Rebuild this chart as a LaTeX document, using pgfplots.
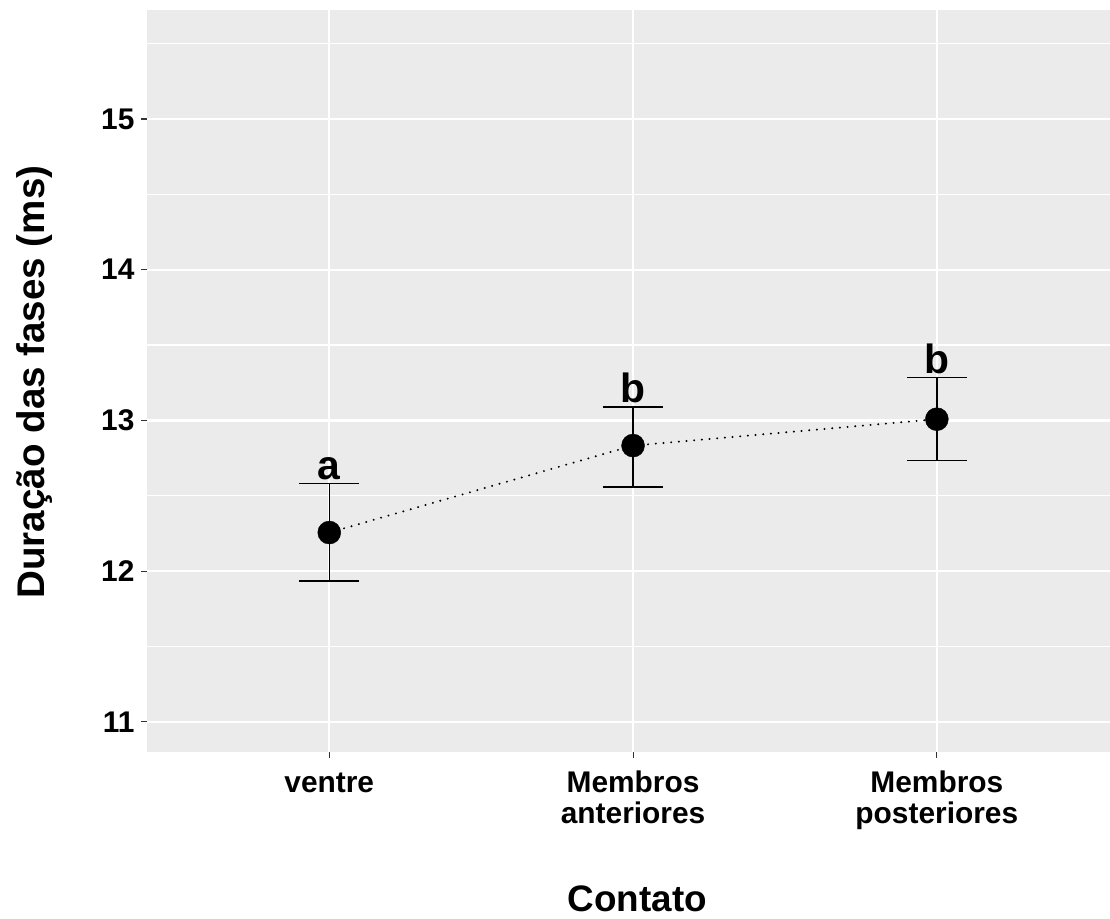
\documentclass[border=0pt]{standalone}
\usepackage{fontspec}
\setmainfont{Liberation Sans}
\usepackage{pgfplots}
\pgfplotsset{compat=1.18}
\usepackage{pgfplotstable}
\definecolor{panel}{HTML}{EBEBEB}
\definecolor{tickc}{HTML}{333333}
\pgfplotstableread{
x y ep em up lab
1 12.256 0.325 0.323 12.581 a
2 12.833 0.257 0.276 13.090 b
3 13.008 0.276 0.273 13.284 b
}\data
\begin{document}
\begin{tikzpicture}
\begin{axis}[
 scale only axis, width=963bp, height=742bp,
 xmin=0.4, xmax=3.57, ymin=10.80, ymax=15.723,
 axis background/.style={fill=panel},
 axis line style={draw=none},
 xtick={1,2,3}, xticklabels={\vphantom{Mb}ventre,{\vphantom{Mb}Membros\\anteriores},{\vphantom{Mb}Membros\\posteriores}},
 ytick={11,12,13,14,15}, minor ytick={11.5,12.5,13.5,14.5,15.5},
 xmajorgrids, ymajorgrids, yminorgrids,
 major grid style={white, line width=2.2bp},
 minor grid style={white, line width=1.1bp},
 tick align=outside, xtick pos=bottom, ytick pos=left,
 major tick length=6bp, minor tick length=0pt,
 tick style={tickc, line width=1.1bp},
 ticklabel style={font=\fontsize{30}{31}\selectfont\bfseries, black},
 xticklabel style={align=center, anchor=north, yshift=-9bp},
 yticklabel style={xshift=-3bp},
 /pgf/number format/assume math mode=true,
 xlabel={Contato}, ylabel={Duração das fases (ms)},
 xlabel style={font=\fontsize{37}{40}\selectfont\bfseries, at={(axis description cs:0.5093,-0.1981)}, anchor=center},
 ylabel style={font=\fontsize{38.7}{40}\selectfont\bfseries, at={(axis description cs:-0.1163,0.4987)}, anchor=center},
 clip=false,
]
\addplot[black, line width=2.2bp, line cap=round, dash pattern=on 0pt off 7.7bp, forget plot] table[x=x,y=y]{\data};
\addplot[black, only marks, mark=none,
  error bars/.cd, y dir=both, y explicit,
  error bar style={line width=1.5bp, black},
  error mark options={rotate=90, mark size=30bp, line width=1.5bp, black}]
  table[x=x, y=y, y error plus=ep, y error minus=em]{\data};
\addplot[black, only marks, mark=*, mark size=11.5bp] table[x=x,y=y]{\data};
\addplot[only marks, mark=*, mark size=0pt, draw=none, fill=none,
  nodes near coords, point meta=explicit symbolic,
  nodes near coords style={anchor=base, yshift=4bp, font=\fontsize{41}{41}\selectfont\bfseries, text=black}]
  table[x=x, y=up, meta=lab]{\data};
\end{axis}
\pgfresetboundingbox
\path (-147bp,-167bp) rectangle (963bp,752bp);
\end{tikzpicture}
\end{document}
